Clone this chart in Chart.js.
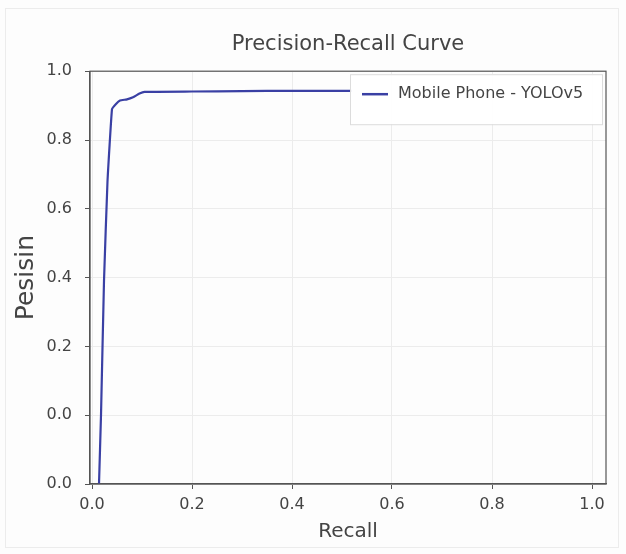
<!DOCTYPE html>
<html>
<head>
<meta charset="utf-8">
<script src="https://cdn.jsdelivr.net/npm/chart.js@4"></script>
<style>
  html, body { margin: 0; padding: 0; background: #fdfdfd; }
  #wrap { position: relative; width: 626px; height: 554px; }
  #frame { position: absolute; left: 5px; top: 8px; width: 612px; height: 538px; border: 1px solid #ececec; }
</style>
</head>
<body>
<div id="wrap">
  <div id="frame"></div>
  <canvas id="prChart" width="626" height="554"></canvas>
</div>
<script>
const seriesLabel = 'Mobile Phone - YOLOv5';
const recall =    [0.014, 0.018, 0.024, 0.031, 0.040, 0.048, 0.056, 0.070, 0.082, 0.095, 0.105, 0.200, 0.300, 0.400, 0.520];
const precision = [-0.20, 0.000, 0.390, 0.680, 0.890, 0.905, 0.915, 0.918, 0.924, 0.935, 0.940, 0.941, 0.942, 0.943, 0.943];
const xTicks = [0, 0.2, 0.4, 0.6, 0.8, 1.0];
const xTickLabels = ['0.0', '0.2', '0.4', '0.6', '0.8', '1.0'];
const yTicks = [-0.2, 0, 0.2, 0.4, 0.6, 0.8, 1.0];
const yTickLabels = ['0.0', '0.0', '0.2', '0.4', '0.6', '0.8', '1.0'];

const lineColor = '#3a40a4';
const axisColor = '#555555';
const textColor = '#444444';
Chart.defaults.font.family = "'DejaVu Sans', sans-serif";
Chart.defaults.color = textColor;

// legend box inside the plot, top right, plus the top/right frame lines
const frameAndLegend = {
    id: 'frameAndLegend',
    afterDatasetsDraw(chart) {
        const { ctx, chartArea: a } = chart;
        ctx.save();
        ctx.strokeStyle = axisColor;
        ctx.lineWidth = 1.2;
        ctx.strokeRect(a.left, a.top, a.right - a.left, a.bottom - a.top);

        const ds = chart.data.datasets[0];
        const bx = 350, by = a.top + 3, bw = a.right - 4 - bx, bh = 50;
        ctx.fillStyle = 'rgba(255,255,255,0.95)';
        ctx.strokeStyle = '#dcdcdc';
        ctx.lineWidth = 1;
        ctx.fillRect(bx, by, bw, bh);
        ctx.strokeRect(bx + 0.5, by + 0.5, bw, bh);
        ctx.strokeStyle = ds.borderColor;
        ctx.lineWidth = 2.5;
        ctx.beginPath();
        ctx.moveTo(bx + 12, by + 20);
        ctx.lineTo(bx + 38, by + 20);
        ctx.stroke();
        ctx.fillStyle = textColor;
        ctx.font = "16px 'DejaVu Sans', sans-serif";
        ctx.textBaseline = 'middle';
        ctx.fillText(ds.label, bx + 48, by + 20);
        ctx.restore();
    }
};

new Chart(document.getElementById('prChart'), {
    type: 'line',
    data: {
        datasets: [{
            label: seriesLabel,
            data: recall.map((r, i) => ({ x: r, y: precision[i] })),
            borderColor: lineColor,
            borderWidth: 2.2,
            pointRadius: 0,
            tension: 0.1,
            fill: false
        }]
    },
    options: {
        responsive: false,
        animation: false,
        layout: { padding: { left: 10, right: 20, top: 30, bottom: 10 } },
        plugins: {
            legend: { display: false },
            tooltip: { enabled: false },
            title: {
                display: true,
                fullSize: false,
                text: 'Precision-Recall Curve',
                color: textColor,
                font: { size: 21, weight: 'normal' },
                padding: { top: 2, bottom: 14 }
            }
        },
        scales: {
            x: {
                type: 'linear',
                min: -0.004,
                max: 1.028,
                afterBuildTicks: s => { s.ticks = xTicks.map(v => ({ value: v })); },
                afterFit: s => { s.height = 60; },
                ticks: {
                    callback: (v, i) => xTickLabels[i],
                    font: { size: 16 },
                    color: textColor,
                    maxRotation: 0,
                    padding: 6
                },
                grid: { color: '#ececec', tickColor: axisColor, tickLength: 5 },
                border: { color: axisColor, width: 1.2 },
                title: { display: true, text: 'Recall', font: { size: 20 }, color: textColor, padding: { top: 4, bottom: 0 } }
            },
            y: {
                type: 'linear',
                min: -0.2,
                max: 1.0,
                afterBuildTicks: s => { s.ticks = yTicks.map(v => ({ value: v })); },
                afterFit: s => { s.width = 80; },
                ticks: {
                    callback: (v, i) => yTickLabels[i],
                    font: { size: 16 },
                    color: textColor,
                    padding: 13
                },
                grid: { color: '#ececec', tickColor: axisColor, tickLength: 5 },
                border: { color: axisColor, width: 1.2 },
                title: { display: true, text: 'Pesisin', font: { size: 25 }, color: textColor, padding: { top: 1, bottom: 0 } }
            }
        }
    },
    plugins: [frameAndLegend]
});
</script>
</body>
</html>
